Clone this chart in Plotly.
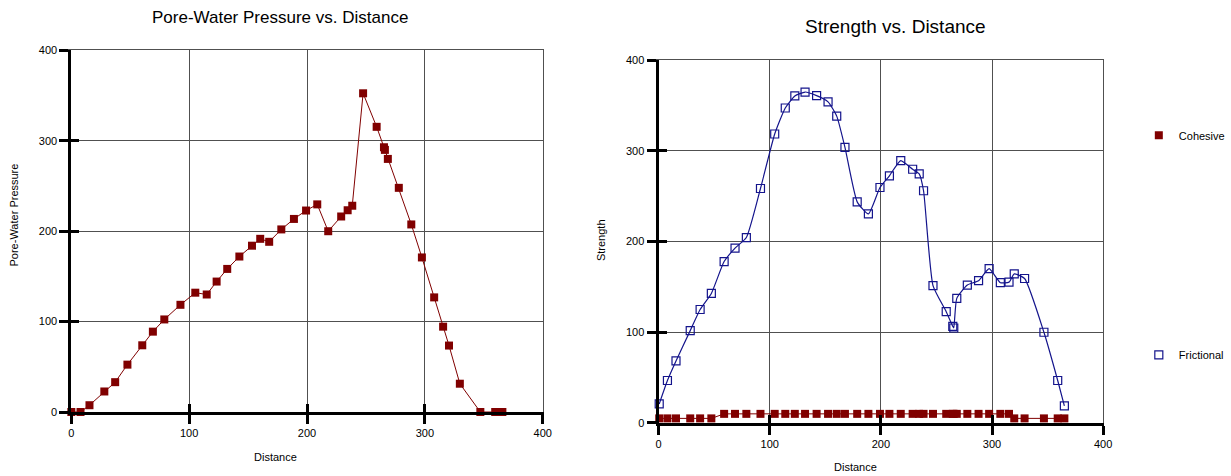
import plotly.graph_objects as go

# ---- data -------------------------------------------------------------
distance_pwp = [0, 7.8, 15.4, 28, 37.2, 47.6, 60.2, 69.2, 78.9, 92.6,
                105.2, 114.9, 123.3, 132.3, 142.6, 153.3, 160.3, 167.9, 178.2, 188.9,
                199.2, 208.7, 218, 229, 234.5, 238.4, 247.6, 259.1, 265.3, 266.1,
                268.6, 277.9, 288.5, 297.5, 307.9, 315.5, 320.5, 329.7, 347.1, 359.7,
                363.3, 365.8]
pore_water_pressure = [0, 0, 7.5, 22.7, 33, 52.4, 73.8, 88.9, 102.4, 118.6,
                       132, 130, 144.3, 158.3, 172, 184, 191.6, 188.3, 202, 213.6,
                       222.9, 229.7, 200, 216.3, 223.2, 228.2, 352.6, 315.5, 292.9, 290,
                       280, 248, 207.5, 171, 126.8, 94.4, 73.5, 31.3, 0, 0,
                       0, 0]

distance_str = [0.6, 8, 15.7, 28.5, 37.4, 47.5, 59, 68.8, 79, 91.7,
                104.5, 114, 122.6, 131.8, 142.2, 152.5, 160.3, 167.7, 178.7, 188.8,
                199.2, 207.7, 217.9, 228.6, 234.5, 238.4, 246.9, 258.8, 264.7, 265.6,
                268.3, 277.8, 287.9, 297.4, 307.5, 315.3, 320, 329.3, 346.7, 359.1,
                365.1]
frictional = [20.9, 46.8, 68.4, 101.8, 125.1, 142.8, 178, 192.8, 204.5, 258.6,
              318.7, 347.4, 360.7, 365, 361, 354.2, 338.4, 303.9, 243.8, 230.5,
              259.7, 272.6, 289.4, 279.8, 274.8, 256.1, 151.5, 122.7, 106.5, 104.7,
              137.4, 152.1, 156.9, 170.1, 154.7, 155.3, 164.4, 159.3, 100, 46.8,
              18.8]
cohesive = [5, 5, 5, 5, 5, 5, 10, 10, 10, 10,
            10, 10, 10, 10, 10, 10, 10, 10, 10, 10,
            10, 10, 10, 10, 10, 10, 10, 10, 10, 10,
            10, 10, 10, 10, 10, 10, 5, 5, 5, 5,
            5]

axis_ticks = [0, 100, 200, 300, 400]

# ---- style ------------------------------------------------------------
FONT = "Liberation Sans, Arial, sans-serif"
RED = "#800000"
NAVY = "#14148c"
GRID = "#505050"
W, H = 1231, 476

fig = go.Figure()

# pore-water pressure (left panel)
fig.add_trace(go.Scatter(
    x=distance_pwp, y=pore_water_pressure, mode="lines+markers",
    name="Pore-Water Pressure", showlegend=False, cliponaxis=False,
    line=dict(color=RED, width=1),
    marker=dict(symbol="square", size=8, color=RED),
    xaxis="x", yaxis="y"))

# strength (right panel): connecting lines first, markers on top carry the legend
fig.add_trace(go.Scatter(
    x=distance_str, y=cohesive, mode="lines", showlegend=False, cliponaxis=False,
    line=dict(color=RED, width=1), hoverinfo="skip",
    xaxis="x2", yaxis="y2"))
fig.add_trace(go.Scatter(
    x=distance_str, y=frictional, mode="lines", showlegend=False, cliponaxis=False,
    line=dict(color=NAVY, width=1.2, shape="spline", smoothing=0.5),
    hoverinfo="skip", xaxis="x2", yaxis="y2"))
fig.add_trace(go.Scatter(
    x=distance_str, y=cohesive, mode="markers", name="Cohesive",
    cliponaxis=False, legend="legend",
    marker=dict(symbol="square", size=8, color=RED),
    xaxis="x2", yaxis="y2"))
fig.add_trace(go.Scatter(
    x=distance_str, y=frictional, mode="markers", name="Frictional",
    cliponaxis=False, legend="legend2",
    marker=dict(symbol="square-open", size=8, color=NAVY, line=dict(width=1.2)),
    xaxis="x2", yaxis="y2"))

# empty traces so the overlay axes (inner tick halves, top/right frame) get drawn
for xa, ya in (("x3", "y3"), ("x4", "y4"), ("x5", "y5"), ("x6", "y6")):
    fig.add_trace(go.Scatter(x=[], y=[], xaxis=xa, yaxis=ya, showlegend=False,
                             hoverinfo="skip"))

left_x = [69 / W, 545 / W]
left_y = [(H - 416.5) / H, (H - 45.6) / H]
right_x = [662 / W, 1111 / W]
right_y = [(H - 427.7) / H, (H - 55.7) / H]

main_axis = dict(range=[0, 400], tickvals=axis_ticks, showgrid=True,
                 gridcolor=GRID, gridwidth=1, zeroline=False,
                 showline=True, linecolor="black", linewidth=3,
                 ticks="outside", ticklen=9, tickwidth=3, tickcolor="black",
                 tickfont=dict(family=FONT, size=11, color="black"))
inner_axis = dict(range=[0, 400], tickvals=axis_ticks, showgrid=False,
                  zeroline=False, showline=False, showticklabels=False,
                  ticks="inside", ticklen=8, tickwidth=3, tickcolor="black")
frame_axis = dict(range=[0, 400], showgrid=False, zeroline=False,
                  showline=True, linecolor=GRID, linewidth=1,
                  showticklabels=False, ticks="")

fig.update_layout(
    width=W, height=H,
    margin=dict(l=0, r=0, t=0, b=0),
    paper_bgcolor="white", plot_bgcolor="white",
    font=dict(family=FONT, size=10, color="black"),
    xaxis=dict(domain=left_x, anchor="y", **main_axis),
    yaxis=dict(domain=left_y, anchor="x", **main_axis),
    xaxis2=dict(domain=right_x, anchor="y2", **main_axis),
    yaxis2=dict(domain=right_y, anchor="x2", **main_axis),
    xaxis3=dict(overlaying="x", anchor="y3", **inner_axis),
    yaxis3=dict(overlaying="y", anchor="x3", **inner_axis),
    xaxis4=dict(overlaying="x2", anchor="y4", **inner_axis),
    yaxis4=dict(overlaying="y2", anchor="x4", **inner_axis),
    xaxis5=dict(overlaying="x", anchor="y5", side="top", **frame_axis),
    yaxis5=dict(overlaying="y", anchor="x5", side="right", **frame_axis),
    xaxis6=dict(overlaying="x2", anchor="y6", side="top", **frame_axis),
    yaxis6=dict(overlaying="y2", anchor="x6", side="right", **frame_axis),
    legend=dict(x=1147 / W, y=(H - 132.7) / H, xanchor="left", yanchor="middle",
                font=dict(family=FONT, size=11), itemwidth=30,
                bgcolor="rgba(0,0,0,0)"),
    legend2=dict(x=1147 / W, y=(H - 358) / H, xanchor="left", yanchor="middle",
                 font=dict(family=FONT, size=11), itemwidth=30,
                 bgcolor="rgba(0,0,0,0)"),
)

# titles and axis titles
texts = [
    ("Pore-Water Pressure vs. Distance", 279.5, 12, 17, 0),
    ("Strength vs. Distance", 901, 21, 19, 0),
    ("Distance", 275, 463, 11, 0),
    ("Distance", 861, 473, 11, 0),
    ("Pore-Water Pressure", 11, 214, 11, -90),
    ("Strength", 604, 240, 11, -90),
]
for t, px, py, size, ang in texts:
    fig.add_annotation(text=t, x=px / W, y=(H - py) / H, xref="paper", yref="paper",
                       xanchor="center", yanchor="middle", showarrow=False,
                       textangle=ang, font=dict(family=FONT, size=size, color="black"))

fig.write_html("out.html")
